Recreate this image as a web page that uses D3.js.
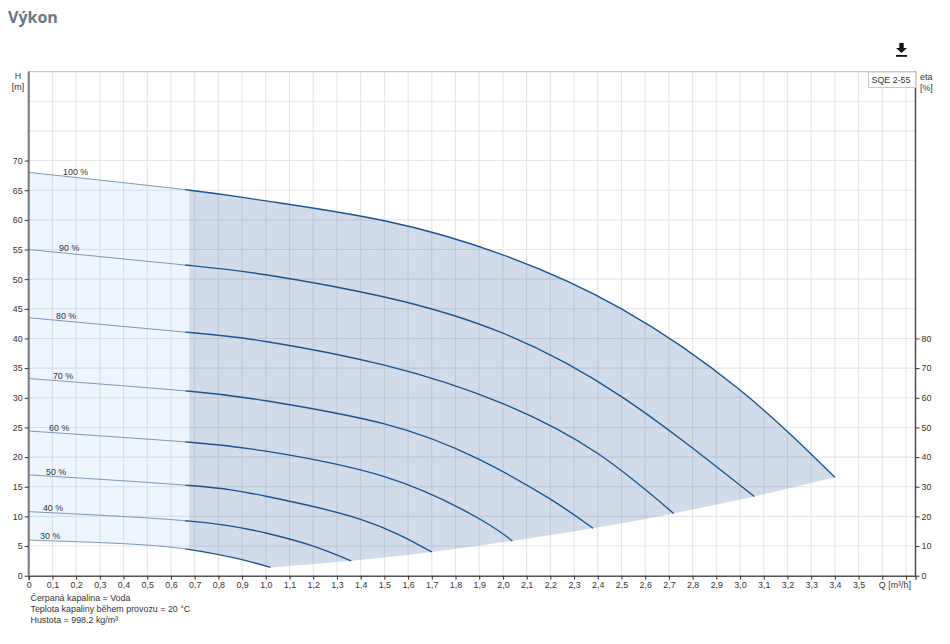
<!DOCTYPE html>
<html lang="cs"><head><meta charset="utf-8"><title>Výkon</title>
<script src="https://cdnjs.cloudflare.com/ajax/libs/d3/7.8.5/d3.min.js"></script>
<style>html,body{margin:0;padding:0;background:#fff;overflow:hidden}svg{display:block}
text{font-family:"Liberation Sans",Arial,sans-serif;font-size:8.9px;fill:#333}</style></head><body><svg id="c" width="950" height="644"></svg>
<script>
const curve100=[[0,68],[0.68,65],[1.0,63.2],[1.5,59.85],[2.0,54.1],[2.5,45],[3.0,31.3],[3.4,16.6]];
const curve90=[[0,55],[0.68,52.3],[1.0,50.75],[1.5,47],[2.0,40.9],[2.5,30.2],[3.06,13.35]];
const curve80=[[0,43.5],[0.68,41],[1.0,39.5],[1.5,35.5],[2.0,29],[2.4,20.6],[2.72,10.5]];
const curve70=[[0,33.25],[0.68,31.1],[1.0,29.5],[1.5,25.6],[1.9,19.6],[2.2,12.9],[2.38,8]];
const curve60=[[0,24.4],[0.68,22.5],[1.0,21],[1.5,16.7],[1.9,9.6],[2.04,5.85]];
const curve50=[[0,17],[0.68,15.2],[1.0,13.4],[1.4,9.5],[1.7,4]];
const curve40=[[0,10.8],[0.68,9.2],[1.0,7.2],[1.2,5],[1.36,2.5]];
const curve30=[[0,6],[0.4,5.4],[0.68,4.4],[0.9,2.7],[1.02,1.4]];
const speedLabels=["100 %","90 %","80 %","70 %","60 %","50 %","40 %","30 %"];
const labelQ=[0.145,0.128,0.115,0.102,0.086,0.073,0.06,0.048];
const footerLines=["Čerpaná kapalina = Voda","Teplota kapaliny během provozu = 20 °C","Hustota = 998.2 kg/m³"];
const qTicks=d3.range(0,38).map(i=>i/10);
const hGridTicks=d3.range(5,85,5);
const hLabelTicks=d3.range(0,75,5);
const etaTicks=[0,10,20,30,40,50,60,70,80];

const curves=[curve100,curve90,curve80,curve70,curve60,curve50,curve40,curve30];
const svg=d3.select("#c");
const x=d3.scaleLinear().domain([0,3.74]).range([28.7,915.5]);
const y=d3.scaleLinear().domain([0,85]).range([575.7,71.6]);
const yEta=d3.scaleLinear().domain([0,170]).range([575.7,71.6]);
const split=0.677;

svg.append("text").attr("x",8).attr("y",23).text("Výkon")
  .style("font-family","'Open Sans',sans-serif").style("font-weight",700).style("font-size","16px").style("fill","#67788a");

const icon=svg.append("g").attr("transform","translate(901.5,50)").style("fill","#111");
icon.append("path").attr("d",d3.line()([[-2.2,-7],[2.2,-7],[2.2,-2],[5.5,-2],[0,3],[-5.5,-2],[-2.2,-2]])+"Z");
icon.append("rect").attr("x",-5.5).attr("y",5).attr("width",11).attr("height",1.8);

const grid=svg.append("g").attr("stroke","#e6e6e6").attr("stroke-width",1.1);
grid.selectAll(".v").data(qTicks.slice(1)).join("line").attr("class","v").attr("x1",d=>x(d)).attr("x2",d=>x(d)).attr("y1",y(85)).attr("y2",y(0));
grid.selectAll(".h").data(hGridTicks).join("line").attr("class","h").attr("x1",x(0)).attr("x2",x(3.74)).attr("y1",d=>y(d)).attr("y2",d=>y(d));
svg.append("line").attr("x1",x(0)).attr("x2",x(3.74)).attr("y1",y(85)).attr("y2",y(85)).attr("stroke","#c9c9c9").attr("stroke-width",1.2);

const defs=svg.append("defs");
const clip=(id,x0,x1)=>defs.append("clipPath").attr("id",id).append("rect").attr("x",x0).attr("y",0).attr("width",x1-x0).attr("height",644);
clip("fl",0,x(split));clip("fr",x(split),950);clip("ll",0,x(0.66));clip("lr",x(0.66),950);

const line=d3.line().x(d=>x(d[0])).y(d=>y(d[1])).curve(d3.curveNatural);
const ends=curves.map(c=>c[c.length-1]);
const region=line(curve100)+"L"+line(ends.slice(1)).slice(1)+"L"+line(curve30.slice().reverse()).slice(1)+"Z";
svg.append("path").attr("d",region).attr("clip-path","url(#fl)").attr("fill","#2f93f0").attr("fill-opacity",0.085);
svg.append("path").attr("d",region).attr("clip-path","url(#fr)").attr("fill","#1f5a96").attr("fill-opacity",0.21);

const cg=svg.append("g").attr("fill","none");
cg.selectAll(".t").data(curves).join("path").attr("class","t").attr("d",line).attr("clip-path","url(#ll)").attr("stroke","#7d97b4").attr("stroke-width",1);
cg.selectAll(".k").data(curves).join("path").attr("class","k").attr("d",line).attr("clip-path","url(#lr)").attr("stroke","#1a5590").attr("stroke-width",1.4);

svg.selectAll(".sl").data(speedLabels).join("text").attr("class","sl").text(d=>d)
  .attr("x",(d,i)=>x(labelQ[i]))
  .attr("y",(d,i)=>{const c=curves[i];const t=labelQ[i]/c[1][0];return y(c[0][1]+(c[1][1]-c[0][1])*t)-1.3;});

const fmtQ=d=>(d>=3.6?"":(d===0?"0":d.toFixed(1).replace(".",",")));
const axB=svg.append("g").attr("transform",`translate(0,${y(0)})`).call(d3.axisBottom(x).tickValues(qTicks).tickFormat(fmtQ).tickSize(4).tickPadding(1.5));
const axL=svg.append("g").attr("transform",`translate(${x(0)},0)`).call(d3.axisLeft(y).tickValues(hLabelTicks).tickSize(4).tickPadding(2));
const axR=svg.append("g").attr("transform",`translate(${x(3.74)},0)`).call(d3.axisRight(yEta).tickValues(etaTicks).tickSize(4).tickPadding(2));
[axB,axL,axR].forEach(a=>{a.selectAll(".tick text").style("font-family","'Liberation Sans',sans-serif").style("font-size","8.9px").style("fill","#333");a.selectAll(".tick line").attr("stroke","#333");});
axB.select(".domain").attr("stroke","#555").attr("stroke-width",1.5);
axL.select(".domain").attr("d",`M0,${y(85)}V${y(0)}`).attr("stroke","#777").attr("stroke-width",2);
axR.select(".domain").attr("d",`M0,${y(85)}V${y(0)}`).attr("stroke","#444").attr("stroke-width",1.4);

svg.append("text").attr("x",x(3.6)-3.5).attr("y",587.5).text("Q [m³/h]");
svg.append("text").attr("x",18).attr("y",79).attr("text-anchor","middle").text("H");
svg.append("text").attr("x",18).attr("y",90).attr("text-anchor","middle").text("[m]");
svg.append("text").attr("x",920).attr("y",80).text("eta");
svg.append("text").attr("x",920).attr("y",91).text("[%]");

svg.append("rect").attr("x",868.5).attr("y",72).attr("width",47).attr("height",15.5).attr("fill","#fff").attr("stroke","#c8c8c8");
svg.append("text").attr("x",871.5).attr("y",82.5).text("SQE 2-55");

svg.selectAll(".ft").data(footerLines).join("text").attr("class","ft").attr("x",30.5).attr("y",(d,i)=>601+i*11).text(d=>d);
</script></body></html>
